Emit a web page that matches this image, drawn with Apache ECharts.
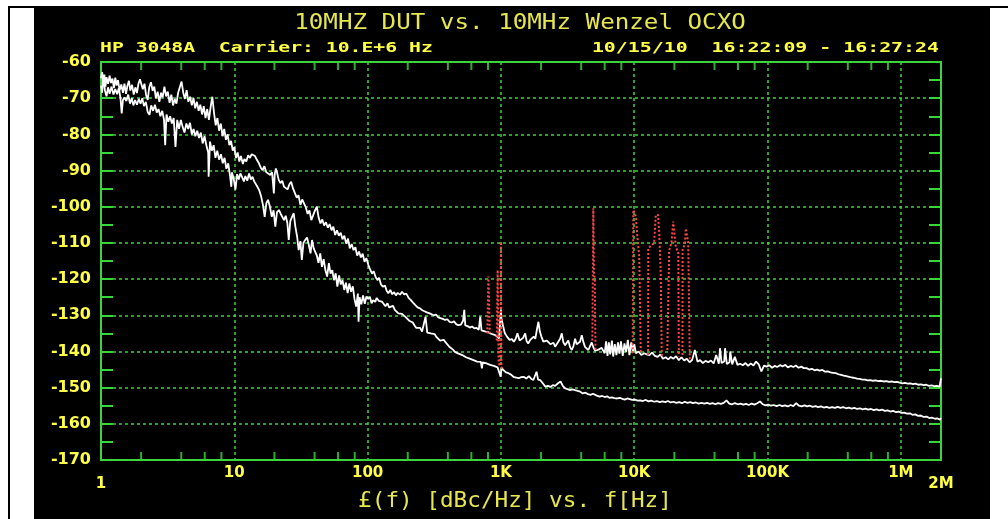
<!DOCTYPE html>
<html><head><meta charset="utf-8">
<script src="https://cdn.jsdelivr.net/npm/echarts@6/dist/echarts.min.js"></script>
<style>
html,body{margin:0;padding:0;background:#fff;width:1008px;height:519px;overflow:hidden}
#bg{position:absolute;left:34px;top:8px;width:956px;height:511px;background:#000}
#lt{position:absolute;left:8px;top:6px;width:1000px;height:2px;background:#000}
#ll{position:absolute;left:8px;top:6px;width:2px;height:513px;background:#000}
#chart{position:absolute;left:0;top:0;width:1008px;height:519px}
</style></head><body>
<div id="bg"></div><div id="lt"></div><div id="ll"></div><div id="chart"></div>
<script>
// ---- Data (frequency [Hz], level [dBc/Hz]) ----
const traceA = [[1,-64.5],[1.02,-62.8],[1.04,-65.5],[1.06,-63.5],[1.08,-66.8],[1.1,-64.2],[1.13,-66],[1.16,-63.8],[1.19,-65.8],[1.22,-64.6],[1.25,-67.2],[1.28,-64.3],[1.31,-66.5],[1.34,-65],[1.38,-67.8],[1.42,-66.2],[1.46,-68.5],[1.5,-66],[1.54,-68.8],[1.58,-66.5],[1.62,-65.2],[1.66,-67.9],[1.71,-66.3],[1.76,-69],[1.81,-67],[1.86,-68.6],[1.91,-66],[1.96,-64.8],[2.01,-64.4],[2.06,-67.5],[2.12,-66],[2.18,-69.2],[2.24,-70.5],[2.3,-67],[2.37,-65.6],[2.44,-68],[2.51,-66.8],[2.58,-70],[2.66,-68.2],[2.74,-71],[2.82,-68.5],[2.9,-69.8],[2.99,-66.8],[3.08,-69.5],[3.17,-68.2],[3.27,-71.3],[3.37,-69],[3.47,-72],[3.57,-70.2],[3.68,-71.5],[3.79,-68.5],[3.9,-67],[4.02,-65.4],[4.14,-68.5],[4.26,-70.2],[4.39,-67.8],[4.52,-71],[4.66,-69.6],[4.8,-72],[4.94,-70],[5.09,-72.8],[5.24,-71],[5.4,-73.5],[5.56,-71.8],[5.73,-74.5],[5.9,-72.2],[6.08,-75.5],[6.26,-73],[6.45,-76],[6.64,-72.5],[6.84,-69.6],[7.04,-74],[7.25,-77.5],[7.47,-75.5],[7.69,-79],[7.92,-77],[8.16,-80.5],[8.4,-78.5],[8.65,-81.5],[8.91,-80],[9.18,-83],[9.45,-81.8],[9.73,-84.5],[10,-83.5],[10.3,-86.5],[10.6,-85],[10.9,-87.5],[11.2,-86],[11.6,-88.2],[11.9,-86.8],[12.3,-87.5],[12.7,-85.8],[13.1,-86.5],[13.5,-85.5],[13.9,-85.2],[14.3,-86],[14.8,-87.1],[15.3,-88],[15.8,-89.2],[16.3,-89.9],[16.8,-88.8],[17.4,-90.5],[18,-90],[18.6,-91.2],[19.2,-90.5],[19.8,-96.3],[20.1,-91],[20.5,-89.4],[20.9,-90.5],[21.5,-92.5],[22.2,-93.5],[22.9,-92.8],[23.6,-94.5],[24.3,-94],[25.1,-95.2],[25.9,-93.8],[26.7,-93.1],[27.6,-95],[28.5,-95.4],[29.4,-97.5],[30.3,-96.8],[31.3,-99.5],[32.3,-98],[33.3,-98.5],[34.4,-100.2],[35.5,-102],[36.6,-101],[37.8,-103.7],[39,-102.4],[40.3,-101],[41.6,-100],[42.9,-103],[44.3,-104.6],[45.7,-103.5],[47.2,-105.2],[48.7,-104.3],[50.3,-105.8],[51.9,-104.8],[53.6,-106.5],[55.3,-105.5],[57.1,-107.8],[58.9,-106.5],[60.8,-108],[62.8,-107.2],[64.8,-109],[66.9,-108],[69,-110.2],[71.3,-108.8],[73.5,-111.5],[75.9,-110.3],[78.4,-112],[80.9,-111.2],[83.5,-113.5],[86.2,-112.4],[89,-114],[91.8,-113],[94.8,-115.2],[97.8,-114.2],[101,-116],[104,-117.2],[108,-118.5],[111,-117.8],[115,-119.5],[119,-120.3],[122,-119.6],[126,-121.5],[130,-122.1],[135,-121.8],[139,-123.2],[143,-123.9],[148,-123],[153,-124.2],[158,-123.6],[163,-124.5],[168,-123.8],[175,-124.3],[181,-123.5],[188,-124.2],[195,-124],[203,-125.2],[211,-125.8],[219,-126.5],[228,-127.2],[237,-127.8],[247,-128.1],[257,-128.6],[267,-128.9],[278,-129.2],[289,-129.4],[301,-129.7],[313,-130],[326,-129.8],[339,-130.6],[352,-130.8],[366,-131],[381,-131.3],[396,-131.1],[412,-131.8],[428,-132],[445,-131.7],[463,-132.5],[481,-132.7],[500,-132.6],[520,-131.5],[531,-128.5],[540,-132.8],[562,-133],[584,-133.4],[607,-133.1],[631,-133.6],[656,-133.5],[682,-134],[700,-130.4],[715,-134.2],[740,-134],[769,-134.5],[800,-134.6],[830,-135],[862,-135.2],[896,-135.4],[931,-135.8],[968,-136.4],[990,-136],[1000,-128.5],[1010,-131],[1040,-133.1],[1070,-135],[1110,-135.9],[1160,-136.8],[1210,-136.6],[1250,-137.3],[1290,-136.5],[1330,-135],[1380,-137],[1420,-137.4],[1470,-136.2],[1520,-135],[1560,-137.2],[1600,-137.8],[1660,-136.8],[1710,-137],[1760,-135.9],[1810,-136.5],[1860,-134],[1910,-131.8],[1960,-134.5],[2010,-135.9],[2080,-137.3],[2150,-137.8],[2210,-137],[2280,-137.5],[2350,-138],[2410,-138.2],[2480,-137.6],[2550,-138.7],[2620,-138],[2700,-137.8],[2780,-136.5],[2860,-135],[2940,-137.5],[3030,-138.3],[3110,-138],[3200,-137],[3300,-138.8],[3400,-139.6],[3500,-138.5],[3600,-136.5],[3700,-138],[3800,-137.9],[3920,-137.3],[4040,-135.5],[4160,-137.5],[4280,-138.8],[4400,-139.2],[4530,-139.6],[4660,-138.5],[4800,-137.5],[4950,-139],[5100,-139.8],[5240,-140.1],[5400,-139.5],[5550,-139.8],[5700,-139],[5850,-138.6],[6000,-140.5],[6150,-137.2],[6300,-141.2],[6450,-137.5],[6600,-140.8],[6800,-137],[6950,-141.4],[7150,-138],[7350,-141],[7550,-137.5],[7750,-140.6],[7950,-137.2],[8200,-141.2],[8450,-137.8],[8700,-140.2],[8950,-136.8],[9200,-141],[9500,-137.5],[9750,-140],[10000,-138],[10300,-140.5],[10800,-140],[11300,-141],[11900,-140.5],[12400,-140.8],[13000,-141],[13600,-140.3],[14300,-141.2],[15000,-141.5],[15700,-140.8],[16400,-142],[17200,-141.6],[18000,-142.2],[18800,-141.5],[19700,-142],[20600,-141.3],[21600,-142.4],[22600,-141.6],[23700,-142.5],[24800,-142],[26000,-143],[27200,-142.3],[28500,-139.6],[29800,-142.8],[31200,-142.4],[32700,-143.2],[34300,-142.6],[35900,-143],[37600,-142.5],[39400,-143.3],[41200,-141],[43100,-143.4],[44000,-139.1],[45200,-143.2],[47300,-142.8],[48000,-139.1],[49500,-143.5],[51800,-143],[52500,-140],[54300,-143.6],[56800,-141.5],[59500,-143.7],[62300,-143.4],[65200,-143.8],[68300,-143.2],[71500,-144],[74800,-143.3],[78300,-143.9],[82000,-142.8],[85900,-143.6],[89900,-145.5],[94100,-143.9],[98500,-144.2],[103000,-143.8],[108000,-144.5],[113000,-144],[118000,-144.3],[124000,-143.8],[130000,-144.1],[136000,-143.7],[142000,-144.4],[149000,-144],[156000,-144.3],[163000,-143.9],[171000,-144.5],[179000,-144.2],[187000,-144.6],[196000,-144.6],[205000,-145],[215000,-144.8],[225000,-145.2],[235000,-145],[246000,-145.3],[258000,-145.1],[270000,-145.6],[283000,-145.5],[296000,-145.8],[310000,-145.9],[325000,-146],[340000,-146.3],[356000,-146.5],[373000,-146.7],[390000,-146.8],[409000,-147],[428000,-147.2],[448000,-147.3],[469000,-147.5],[491000,-147.6],[514000,-147.8],[538000,-147.8],[564000,-148],[590000,-147.9],[618000,-148.1],[647000,-148],[678000,-148.2],[710000,-148.1],[743000,-148.3],[778000,-148.2],[815000,-148.4],[853000,-148.3],[893000,-148.5],[935000,-148.4],[979000,-148.6],[1025000,-148.8],[1073000,-148.7],[1124000,-148.9],[1177000,-148.8],[1232000,-149],[1290000,-148.9],[1351000,-149.2],[1414000,-149.1],[1481000,-149.3],[1551000,-149.2],[1624000,-149.5],[1700000,-149.4],[1780000,-149.6],[1864000,-149.5],[1952000,-149.7],[2000000,-147.4]];

const traceB = [[1,-66.5],[1.02,-68.5],[1.04,-64],[1.07,-67.8],[1.1,-69.5],[1.13,-67],[1.16,-68.8],[1.2,-66.8],[1.24,-69],[1.28,-67.5],[1.32,-68.9],[1.36,-67.2],[1.4,-70],[1.43,-74.2],[1.46,-70.5],[1.5,-69.8],[1.55,-70.8],[1.6,-69],[1.65,-71.5],[1.7,-70],[1.75,-72],[1.8,-70.5],[1.86,-71.8],[1.92,-70.2],[1.98,-71.5],[2.04,-70],[2.1,-72.2],[2.17,-71],[2.24,-73.8],[2.31,-74.6],[2.38,-72],[2.46,-73.5],[2.54,-71.8],[2.62,-74],[2.7,-73],[2.79,-75],[2.88,-73.5],[2.97,-76],[3.03,-83],[3.1,-74.5],[3.2,-76.5],[3.3,-75],[3.4,-77],[3.51,-75.5],[3.62,-83.5],[3.73,-76],[3.85,-78.5],[3.97,-76],[4.1,-78],[4.23,-79.5],[4.37,-77],[4.51,-78.5],[4.65,-76.8],[4.8,-80],[4.95,-78.5],[5.1,-80.5],[5.27,-79],[5.44,-81],[5.61,-79.5],[5.79,-82.5],[5.98,-80.5],[6.17,-83],[6.37,-85],[6.42,-91.7],[6.57,-82],[6.78,-84.5],[7,-83],[7.22,-86.5],[7.45,-84.5],[7.69,-87],[7.94,-85.5],[8.19,-88],[8.45,-86.5],[8.72,-89.5],[9,-88],[9.29,-91.5],[9.5,-94.5],[9.61,-90.5],[9.92,-92.5],[10.2,-95.3],[10.5,-91],[10.8,-92.5],[11.1,-90.8],[11.4,-91.7],[11.8,-93],[12.1,-91.5],[12.5,-92.8],[12.9,-90.8],[13.3,-92.5],[13.7,-91.7],[14.1,-93],[14.5,-92.5],[14.9,-94.5],[15.4,-95.5],[15.9,-97.2],[16.4,-99.5],[16.9,-102.8],[17.4,-99],[17.9,-98.1],[18.5,-100],[19.1,-102.8],[19.7,-101],[20.3,-105.5],[20.9,-101.5],[21.6,-100.9],[22.3,-102],[23,-101.5],[23.6,-103.7],[24.3,-102.5],[25,-104.5],[25.6,-109.2],[26.3,-104],[27.1,-102.8],[27.9,-101.8],[28.7,-105.5],[29.6,-108.3],[30.4,-112],[31.3,-109.5],[32.1,-114.7],[33,-110],[34,-109.2],[35.1,-108.5],[36.2,-110.5],[37.3,-112.9],[38.3,-109.2],[39.4,-111.5],[40.4,-111],[41.6,-113.5],[42.8,-115.5],[44.1,-112.9],[45.4,-116.6],[46.8,-114.5],[48.2,-117.5],[49.7,-119.3],[51.2,-115.6],[52.7,-118.5],[54.3,-117.5],[55.9,-120.3],[57.6,-118.4],[59.3,-122.1],[61.1,-119],[62.9,-121.5],[64.8,-120.3],[66.8,-123],[68.8,-121],[70.8,-123.9],[72.9,-121.2],[75.1,-123.5],[77.4,-122],[79.7,-125.5],[82.1,-127.6],[84.5,-124],[85.5,-131.8],[87.1,-125],[89.7,-127],[92.4,-124.5],[95.2,-126.8],[98,-124.8],[101,-125.5],[104,-124.9],[107,-126.7],[110,-125.8],[114,-126.3],[117,-125.2],[121,-126],[124,-125.5],[128,-126.2],[132,-126.7],[136,-127.5],[141,-126.7],[145,-127.8],[150,-128],[155,-127.4],[160,-128.5],[165,-128.9],[170,-129.5],[175,-130],[181,-129.6],[187,-129.9],[193,-130.5],[199,-131],[205,-131.5],[211,-131.3],[218,-132],[225,-132.8],[232,-133.5],[240,-133.1],[248,-133.5],[256,-134.5],[264,-135],[272,-130.4],[280,-134.8],[289,-135],[298,-135],[308,-135.5],[318,-135.2],[328,-136],[339,-136.5],[350,-137],[361,-137.3],[373,-136.8],[385,-137.5],[397,-138],[410,-138.7],[423,-139],[437,-139.5],[451,-140.1],[466,-140],[481,-140.6],[497,-141],[513,-141],[530,-141.4],[547,-141.6],[565,-141.9],[583,-142],[602,-142.2],[622,-142.4],[642,-142.3],[663,-142.8],[685,-142.6],[707,-142.9],[720,-144.7],[730,-143],[754,-143.1],[779,-143.3],[804,-143.5],[830,-143.7],[857,-143.8],[885,-144],[914,-144.2],[944,-144.4],[975,-144.6],[995,-147],[1010,-144.5],[1040,-145.1],[1090,-145.8],[1140,-146],[1190,-146.4],[1240,-147],[1300,-147.2],[1360,-147.4],[1420,-147.1],[1480,-147],[1550,-147.5],[1620,-146.8],[1690,-147.6],[1750,-147.9],[1810,-146.5],[1850,-145.6],[1900,-147.8],[1970,-147.9],[2060,-148.8],[2150,-149.7],[2250,-149.5],[2350,-149.8],[2450,-149.3],[2550,-149.5],[2680,-148.8],[2800,-148.3],[2920,-149.6],[3030,-150.2],[3160,-150.4],[3300,-150.7],[3450,-150.5],[3600,-150.7],[3760,-150.9],[3930,-151.1],[4100,-151.6],[4300,-151.4],[4500,-151.8],[4700,-152],[4900,-151.7],[5100,-152],[5300,-152.3],[5500,-152.5],[5750,-152.3],[6000,-152.6],[6250,-152.4],[6500,-152.8],[6800,-152.7],[7100,-152.9],[7450,-153],[7800,-152.8],[8150,-153.1],[8500,-153.3],[8850,-153],[9250,-153.2],[9650,-153.4],[10100,-153.3],[10600,-153.6],[11100,-153.5],[11600,-153.7],[12200,-153.4],[12800,-153.8],[13400,-153.6],[14100,-153.9],[14800,-153.7],[15500,-154],[16300,-153.8],[17100,-154],[17900,-153.7],[18800,-154.1],[19700,-153.9],[20700,-154.2],[21700,-154],[22800,-154.3],[23900,-153.9],[25100,-154.2],[26300,-154],[27600,-154.3],[29000,-154.1],[30400,-154.4],[31900,-154.2],[33500,-154.4],[35200,-154.2],[36900,-154.5],[38700,-154.3],[40600,-154.6],[42600,-154.3],[44700,-154.5],[46900,-154.2],[49200,-153.5],[51600,-154.4],[54200,-154.6],[56900,-154.3],[59700,-154.6],[62700,-154.4],[65800,-154.7],[69000,-154.5],[72400,-154.8],[76000,-154.4],[79700,-154.7],[83700,-154.3],[87800,-153.8],[92100,-154.6],[96700,-154.9],[101000,-154.7],[106000,-155],[111000,-154.8],[117000,-155.1],[123000,-154.8],[129000,-155.1],[135000,-154.9],[142000,-155.2],[149000,-154.8],[156000,-155.1],[164000,-154.3],[172000,-155],[180000,-155.2],[189000,-154.9],[198000,-155.2],[208000,-155],[218000,-155.3],[229000,-155.1],[240000,-155.4],[252000,-155.2],[264000,-155.5],[277000,-155.3],[291000,-155.6],[305000,-155.4],[320000,-155.6],[336000,-155.3],[352000,-155.6],[370000,-155.4],[388000,-155.7],[407000,-155.5],[427000,-155.8],[448000,-155.6],[470000,-155.9],[493000,-155.7],[517000,-156],[542000,-155.8],[569000,-156.1],[597000,-155.9],[626000,-156.2],[657000,-156],[689000,-156.3],[723000,-156.1],[758000,-156.4],[795000,-156.3],[834000,-156.6],[875000,-156.4],[918000,-156.8],[963000,-156.6],[1010000,-157],[1060000,-156.9],[1110000,-157.2],[1170000,-157.1],[1220000,-157.5],[1280000,-157.4],[1350000,-157.8],[1410000,-157.7],[1480000,-158.1],[1560000,-158],[1630000,-158.4],[1710000,-158.3],[1800000,-158.6],[1890000,-158.5],[1960000,-158.9],[2000000,-158.4]];

// spurs (red, dotted), one small array per spur group
const spur800 = [[790,-135],[805,-119.3],[815,-126],[825,-135]];
const spur1k = [[930,-137],[945,-117.5],[960,-143.3],[990,-144],[1000,-109.7],[1010,-145]];
const spur5k = [[4850,-137],[4930,-100.4],[4990,-118.4],[5060,-120],[5120,-140]];
const spur10k = [[9730,-140.5],[9840,-100.9],[10300,-102.7],[10500,-107.3],[10900,-113.8],[11200,-140.5]];
const spur14k = [[12700,-141],[12750,-111.5],[13500,-110.6],[14100,-110.1],[14500,-102.3],[15100,-102.3],[15400,-107.3],[15800,-118.4],[16100,-141.4]];
const spur19k = [[17700,-139.6],[18300,-112],[19000,-110.1],[19600,-104.1],[20200,-104.6],[20500,-111],[21400,-112.9],[21600,-141.4]];
const spur24k = [[23000,-141],[23050,-112],[24000,-110.1],[24400,-106],[24900,-106],[25400,-110.1],[26100,-142.4]];
const spurGroups = [spur800, spur1k, spur5k, spur10k, spur14k, spur19k, spur24k];

const xTickValues = [1,10,100,1000,10000,100000,1000000,2000000];
const xTickLabels = ['1','10','100','1K','10K','100K','1M','2M'];
const minorTickValues = [2,4,6,8,20,40,60,80,200,400,600,800,2000,4000,6000,8000,20000,40000,60000,80000,200000,400000,600000,800000];
const yMin = -170, yMax = -60;

const titleText = '10MHZ DUT vs. 10MHz Wenzel OCXO';
const infoLeft = 'HP 3048A  Carrier: 10.E+6 Hz';
const infoRight = '10/15/10  16:22:09 - 16:27:24';
const xAxisName = '£(f) [dBc/Hz] vs. f[Hz]';

// ---- Styles ----
const GREEN = '#3cd43c', YELLOW = '#ffff44', TITLEY = '#e6e650', RED = '#ff4646';
const labelFont = {color: YELLOW, fontFamily: 'DejaVu Sans', fontWeight: 'bold', fontSize: 15};
const plotRect = {left: 101, right: 67, top: 62, bottom: 59};

function labelFor(v) {
  let best = -1, bd = 1e9;
  xTickValues.forEach((t, i) => { const d = Math.abs(Math.log10(v) - Math.log10(t)); if (d < bd) { bd = d; best = i; } });
  return bd < 0.01 ? xTickLabels[best] : '';
}

const chart = echarts.init(document.getElementById('chart'));

const series = [
  // minor x ticks (2,4,6,8 per decade) on bottom and top frame
  {type: 'scatter', xAxisIndex: 0, yAxisIndex: 0, data: minorTickValues.map(v => [v, yMin]), symbol: 'rect', symbolSize: [2, 8], symbolOffset: [0, -4],
    itemStyle: {color: GREEN}, silent: true, z: 5},
  {type: 'scatter', xAxisIndex: 0, yAxisIndex: 0, data: minorTickValues.map(v => [v, yMax]), symbol: 'rect', symbolSize: [2, 8], symbolOffset: [0, 4],
    itemStyle: {color: GREEN}, silent: true, z: 5},
  {type: 'line', name: 'B', xAxisIndex: 0, yAxisIndex: 0, data: traceB, symbol: 'none', lineStyle: {color: '#ffffff', width: 1.8}, itemStyle: {color: '#ffffff'}, silent: true, z: 3},
  {type: 'line', name: 'A', xAxisIndex: 0, yAxisIndex: 0, data: traceA, symbol: 'none', lineStyle: {color: '#ffffff', width: 1.8}, itemStyle: {color: '#ffffff'}, silent: true, z: 3}
].concat(spurGroups.map(g => ({type: 'line', xAxisIndex: 0, yAxisIndex: 0, data: g, symbol: 'none',
  lineStyle: {color: RED, width: 2, type: [2, 2]}, itemStyle: {color: RED}, silent: true, z: 4})));

chart.setOption({
  animation: false,
  grid: [
    Object.assign({}, plotRect, {show: true, borderColor: GREEN, borderWidth: 2, backgroundColor: 'rgba(0,0,0,0)'}),
    Object.assign({}, plotRect, {show: false})
  ],
  graphic: [
    {type: 'text', x: 520, y: 23, scaleX: 1.1, style: {text: titleText, font: '22px "DejaVu Sans Mono"', fill: TITLEY, align: 'center', verticalAlign: 'middle'}},
    {type: 'text', x: 100, y: 48, scaleX: 1.41, style: {text: infoLeft, font: 'bold 14px "DejaVu Sans Mono"', fill: YELLOW, align: 'left', verticalAlign: 'middle'}},
    {type: 'text', x: 939, y: 48, scaleX: 1.42, style: {text: infoRight, font: 'bold 14px "DejaVu Sans Mono"', fill: YELLOW, align: 'right', verticalAlign: 'middle'}},
    {type: 'text', x: 515, y: 501, scaleX: 1.03, style: {text: xAxisName, font: '22px "DejaVu Sans Mono"', fill: TITLEY, align: 'center', verticalAlign: 'middle'}}
  ],
  xAxis: [
    {type: 'log', gridIndex: 0, min: 1, max: 2000000, position: 'bottom',
      axisLine: {show: true, onZero: false, lineStyle: {color: GREEN, width: 2}},
      axisTick: {show: false},
      splitLine: {show: true, lineStyle: {color: GREEN, width: 1.5, type: [3, 3]}},
      axisLabel: Object.assign({}, labelFont, {margin: 6, showMinLabel: true, showMaxLabel: true,
        formatter: v => { const l = labelFor(v); return (l === '1' || l === '2M') ? '' : l; }})},
    {type: 'log', gridIndex: 1, min: 1, max: 2000000, position: 'bottom',
      axisLine: {show: false}, axisTick: {show: false}, splitLine: {show: false},
      axisLabel: Object.assign({}, labelFont, {margin: 17, showMinLabel: true, showMaxLabel: true,
        formatter: v => { const l = labelFor(v); return (l === '1' || l === '2M') ? l : ''; }})}
  ],
  yAxis: [
    {type: 'value', gridIndex: 0, min: yMin, max: yMax, interval: 10, position: 'left',
      axisLine: {show: true, onZero: false, lineStyle: {color: GREEN, width: 2}},
      axisTick: {show: true, inside: true, length: 12, lineStyle: {color: GREEN, width: 2}},
      minorTick: {show: true, splitNumber: 2, length: 12, lineStyle: {color: GREEN, width: 2}},
      splitLine: {show: true, lineStyle: {color: GREEN, width: 1.5, type: [3, 3]}},
      axisLabel: Object.assign({}, labelFont, {fontSize: 16, margin: 10, showMinLabel: true, showMaxLabel: true})},
    {type: 'value', gridIndex: 1, min: yMin, max: yMax, interval: 10, position: 'right',
      axisLine: {show: true, onZero: false, lineStyle: {color: GREEN, width: 2}},
      axisTick: {show: true, inside: true, length: 12, lineStyle: {color: GREEN, width: 2}},
      minorTick: {show: true, splitNumber: 2, length: 12, lineStyle: {color: GREEN, width: 2}},
      splitLine: {show: false}, axisLabel: {show: false}}
  ],
  series: series
});
</script></body></html>
